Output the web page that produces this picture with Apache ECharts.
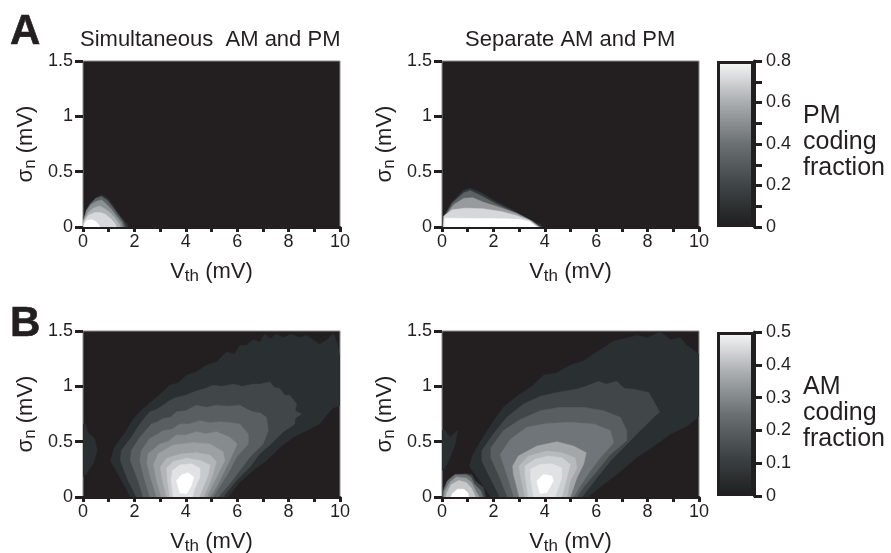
<!DOCTYPE html>
<html><head><meta charset="utf-8">
<style>html,body{margin:0;padding:0;background:#fff}#c{width:891px;height:553px}</style>
<script src="https://cdn.jsdelivr.net/npm/echarts@6/dist/echarts.min.js"></script>
</head><body><div id="c"></div>
<script>
const xTicks=[0,2,4,6,8,10];
const yTicks=[0,0.5,1,1.5];
const pmTicks=[0,0.2,0.4,0.6,0.8];
const amTicks=[0,0.1,0.2,0.3,0.4,0.5];
const titles=['Simultaneous  AM and PM','Separate AM and PM'];

// Contour shades, outermost to innermost
const shadesA1=['#2f3638','#5c6163','#8b9093','#aeb2b5','#d6d9db','#ffffff'];
const shadesA2=['#2f3638','#5c6163','#979b9e','#d5d8da','#ffffff'];
const shadesB1=['#2a3032','#2a3032','#414749','#595e60','#6f7477','#868b8e','#9ca0a3','#b1b5b8','#c8cbce','#e0e2e4','#ffffff'];
const shadesB2=['#2a3032','#2a3032','#414749','#595e60','#70757a','#a3a7aa','#b7babd','#cdd0d3','#e0e2e4','#ffffff','#3f4547','#6d7275','#999da0','#c5c8cb','#ffffff'];

// Contour outlines, [V_th, sigma_n]
const contoursA1=[
[[0,.04],[.15,.14],[.3,.2],[.5,.265],[.72,.29],[.95,.26],[1.15,.2],[1.35,.13],[1.55,.07],[1.72,.03],[1.75,0],[0,0]],
[[.01,.05],[.12,.15],[.28,.21],[.5,.26],[.72,.275],[.95,.24],[1.15,.18],[1.35,.115],[1.55,.055],[1.65,0],[0,0]],
[[.02,.06],[.15,.15],[.3,.2],[.5,.23],[.72,.245],[.9,.21],[1.1,.16],[1.3,.1],[1.5,.04],[1.55,0],[0,0]],
[[.03,.06],[.2,.13],[.4,.17],[.65,.19],[.85,.165],[1.05,.13],[1.25,.08],[1.4,.03],[1.45,0],[0,0]],
[[.05,.05],[.2,.105],[.45,.13],[.7,.13],[.9,.11],[1.1,.07],[1.25,.03],[1.3,0],[0,0]],
[[.05,.03],[.15,.06],[.35,.065],[.5,.05],[.6,.025],[.65,0],[.05,0]]
];
const contoursA2=[
[[.05,.09],[.38,.225],[.83,.33],[1.09,.35],[1.48,.315],[2.13,.225],[2.78,.15],[3.43,.06],[3.82,.025],[3.9,0],[.03,0]],
[[.08,.09],[.4,.215],[.85,.31],[1.1,.33],[1.5,.285],[2.1,.21],[2.75,.14],[3.4,.055],[3.85,0],[.05,0]],
[[.1,.09],[.45,.2],[.85,.26],[1.2,.265],[1.6,.225],[2.2,.18],[2.9,.125],[3.5,.055],[3.8,0],[.05,0]],
[[.07,.1],[.4,.155],[.9,.17],[1.6,.165],[2.3,.14],[2.9,.105],[3.4,.06],[3.75,0],[.05,0]],
[[.1,.08],[2.4,.075],[3,.07],[3.4,.05],[3.6,.015],[3.65,0],[.1,0]]
];
const contoursB1=[
[[.1,.66],[.2,.58],[.45,.53],[.55,.42],[.39,.3],[.1,.2],[0,.18],[0,.66]],
[[1.85,0],[1.43,.18],[1.06,.33],[1.23,.45],[1.69,.6],[1.95,.7],[2.21,.77],[2.5,.83],[2.86,.9],[3.38,1.01],[3.7,1.03],[4.03,1.1],[4.4,1.13],[4.8,1.19],[5.2,1.22],[5.58,1.31],[5.9,1.29],[6.1,1.37],[6.36,1.37],[6.6,1.42],[6.9,1.4],[7.05,1.47],[7.3,1.43],[7.5,1.47],[7.8,1.44],[8.1,1.47],[8.44,1.44],[8.7,1.46],[9,1.41],[9.22,1.38],[9.5,1.42],[9.74,1.48],[9.9,1.38],[10,1.26],[10,.83],[9.7,.8],[9.48,.74],[9.2,.66],[8.7,.6],[8.18,.54],[7.66,.45],[7.14,.33],[6.62,.24],[6.1,.135],[5.65,0]],
[[2.08,0],[1.75,.15],[1.45,.33],[1.49,.42],[1.88,.54],[2.21,.66],[2.6,.77],[2.85,.79],[3.12,.83],[3.35,.87],[3.64,.9],[4,.92],[4.42,.96],[4.75,.98],[5.06,1.01],[5.4,1],[5.84,1.02],[6.2,1],[6.62,1.02],[6.9,1.02],[7.27,1.04],[7.45,.99],[7.66,.98],[7.85,.92],[8.05,.92],[8.31,.84],[8.25,.78],[8.5,.75],[8.25,.71],[8.25,.66],[7.8,.59],[7.27,.47],[6.88,.39],[6.49,.27],[5.97,.15],[5.45,0]],
[[2.34,0],[2.14,.15],[1.84,.33],[1.88,.42],[2.21,.54],[2.66,.66],[2.9,.68],[3.12,.71],[3.4,.72],[3.64,.77],[4,.78],[4.42,.83],[4.8,.81],[5.19,.83],[5.6,.82],[6.1,.83],[6.4,.79],[6.62,.77],[6.9,.76],[7.14,.72],[7.21,.6],[7.01,.48],[6.49,.36],[6.1,.24],[5.71,.12],[5.26,0]],
[[2.6,0],[2.4,.15],[2.21,.33],[2.27,.42],[2.6,.53],[2.85,.56],[3.12,.6],[3.45,.61],[3.77,.66],[4.15,.66],[4.55,.69],[4.95,.67],[5.32,.68],[5.75,.67],[6.1,.66],[6.43,.57],[6.43,.48],[5.97,.36],[5.71,.24],[5.39,.12],[5.06,0]],
[[2.86,0],[2.66,.15],[2.49,.3],[2.53,.39],[2.99,.48],[3.3,.5],[3.64,.56],[4,.56],[4.42,.59],[4.8,.57],[5.19,.59],[5.71,.54],[6,.48],[5.71,.33],[5.45,.21],[5.19,.09],[4.94,0]],
[[3.05,0],[2.86,.15],[2.75,.29],[2.92,.39],[3.51,.47],[4.29,.49],[4.94,.48],[5.45,.41],[5.52,.33],[5.26,.21],[5,.09],[4.81,0]],
[[3.25,0],[3.09,.15],[3.01,.27],[3.25,.35],[3.83,.39],[4.42,.4],[4.94,.38],[5.19,.32],[5.06,.21],[4.87,.09],[4.68,0]],
[[3.38,0],[3.29,.15],[3.25,.26],[3.51,.32],[4.03,.35],[4.55,.33],[4.94,.29],[4.87,.2],[4.68,.09],[4.52,0]],
[[3.51,0],[3.43,.15],[3.48,.24],[3.77,.29],[4.22,.3],[4.55,.26],[4.55,.18],[4.35,.075],[4.26,0]],
[[3.7,.09],[3.64,.15],[3.83,.2],[4.09,.22],[4.31,.18],[4.22,.105],[4.03,.03],[3.77,.036]]
];
const contoursB2=[
[[.08,.61],[.31,.54],[.6,.6],[.51,.48],[.31,.355],[.12,.265],[0,.235],[0,.6]],
[[1.9,0],[1.48,.145],[1.06,.28],[1.22,.39],[1.68,.57],[2.05,.7],[2.39,.81],[2.7,.87],[3.04,.93],[3.5,1],[3.95,1.1],[4.45,1.12],[4.99,1.19],[5.5,1.23],[6.03,1.31],[6.68,1.41],[7.1,1.43],[7.58,1.46],[8,1.44],[8.49,1.49],[8.9,1.42],[9.27,1.44],[9.53,1.37],[10,1.29],[10,.73],[9.53,.64],[8.88,.57],[8.36,.48],[7.58,.36],[6.81,.205],[6.29,.115],[5.77,.02],[5.7,0]],
[[2.25,0],[1.87,.175],[1.55,.325],[1.55,.42],[2,.57],[2.52,.72],[3.17,.84],[3.82,.91],[4.47,.945],[5.25,.975],[5.6,1],[6.09,1.045],[6.4,1.02],[6.8,1.045],[7.1,.98],[7.45,.975],[8.04,.945],[8.23,.87],[8.47,.765],[8.3,.735],[7.58,.57],[7.06,.445],[6.55,.325],[6.03,.175],[5.45,0]],
[[2.55,0],[2.19,.205],[1.9,.355],[1.9,.445],[2.39,.6],[3.04,.7],[3.82,.78],[4.6,.81],[5.51,.81],[6.29,.78],[6.94,.72],[7.19,.6],[7.19,.51],[6.55,.385],[6.03,.235],[5.5,.085],[5.25,0]],
[[2.8,0],[2.52,.205],[2.26,.385],[2.65,.52],[3.3,.63],[4.08,.665],[4.99,.675],[5.9,.66],[6.55,.6],[6.68,.49],[6.16,.355],[5.77,.235],[5.38,.1],[5.12,0]],
[[3.01,0],[2.78,.205],[2.75,.28],[2.97,.37],[3.69,.46],[4.47,.5],[5.12,.46],[5.61,.4],[5.51,.295],[5.25,.175],[4.99,0]],
[[3.23,0],[3.04,.205],[3,.28],[3.36,.37],[4.08,.415],[4.66,.4],[5.18,.355],[5.25,.265],[4.99,.145],[4.86,0]],
[[3.36,0],[3.23,.205],[3.23,.28],[3.62,.34],[4.14,.37],[4.66,.355],[4.99,.295],[4.86,.175],[4.66,0]],
[[3.56,0],[3.45,.175],[3.45,.25],[3.82,.295],[4.27,.3],[4.66,.265],[4.66,.175],[4.4,0]],
[[3.75,.085],[3.69,.145],[3.95,.205],[4.27,.19],[4.34,.145],[4.08,.04],[3.82,.03]],
[[.08,.085],[.25,.16],[.51,.205],[.96,.21],[1.16,.2],[1.29,.145],[1.61,.085],[1.68,.02],[1.7,0],[.03,0]],
[[.05,.05],[.2,.14],[.5,.2],[.95,.2],[1.12,.18],[1.25,.12],[1.5,.06],[1.6,0],[.03,0]],
[[.1,.05],[.3,.13],[.55,.18],[.95,.17],[1.15,.13],[1.3,.06],[1.45,0],[.08,0]],
[[.2,.04],[.35,.11],[.65,.15],[.95,.13],[1.15,.08],[1.25,.03],[1.3,0],[.15,0]],
[[.4,.03],[.6,.07],[.85,.07],[1,.04],[1.05,0],[.35,0]]
];
const pmBarTop=[0.8];
const amBarTop=[0.5];

const INK='#231f20', FONT='"Liberation Sans",Arial,sans-serif';
const panels=[
 {c:contoursA1,s:shadesA1,left:83,top:61},
 {c:contoursA2,s:shadesA2,left:442,top:61},
 {c:contoursB1,s:shadesB1,left:83,top:331},
 {c:contoursB2,s:shadesB2,left:442,top:331}
];
const rich={a:{fontSize:22,fontFamily:FONT,color:INK},s:{fontSize:17,fontFamily:FONT,color:INK,padding:[9,0,0,0]}};
const grid=[],xAxis=[],yAxis=[],series=[];
panels.forEach((p,i)=>{
 grid.push({outerBoundsMode:'none',left:p.left,top:p.top,width:257,height:166,show:true,backgroundColor:INK,borderColor:'#8c8c8c',borderWidth:1});
 xAxis.push({type:'value',gridIndex:i,min:0,max:10,interval:1,splitLine:{show:false},
  axisLine:{show:true,onZero:false,lineStyle:{color:INK,width:3}},
  axisTick:{show:true,length:5,lineStyle:{color:INK,width:3}},
  axisLabel:{fontSize:18,fontFamily:FONT,color:INK,margin:6,formatter:v=>xTicks.includes(v)?String(v):''},
  name:'{a|V}{s|th}{a| (mV)}',nameLocation:'middle',nameGap:32,nameTextStyle:{rich}});
 yAxis.push({type:'value',gridIndex:i,min:0,max:1.5,interval:0.5,splitLine:{show:false},
  axisLine:{show:false},
  axisTick:{show:true,length:8,lineStyle:{color:INK,width:3}},
  axisLabel:{fontSize:18,fontFamily:FONT,color:INK,margin:10,formatter:v=>yTicks.includes(v)?String(v):''},
  name:'{a|σ}{s|n}{a| (mV)}',nameLocation:'middle',nameRotate:90,nameGap:44,nameTextStyle:{rich}});
 p.c.forEach((pts,k)=>{
  series.push({type:'custom',coordinateSystem:'cartesian2d',xAxisIndex:i,yAxisIndex:i,silent:true,animation:false,clip:true,
   data:pts,encode:{x:0,y:1},
   renderItem:(params,api)=>params.dataIndex!==0?null:{type:'polygon',shape:{points:pts.map(q=>api.coord(q))},style:{fill:p.s[k],stroke:p.s[k],lineWidth:0.5}}});
 });
});
// colour bars
[[61,166,0.8,pmBarTop,pmTicks],[332,164,0.5,amBarTop,amTicks]].forEach((b,j)=>{
 const g=4+j;
 grid.push({outerBoundsMode:'none',left:717,top:b[0],width:37,height:b[1]});
 xAxis.push({type:'category',gridIndex:g,data:['bar'],show:false});
 yAxis.push({type:'value',gridIndex:g,position:'right',min:0,max:b[2],interval:0.1,splitLine:{show:false},
  axisLine:{show:true,lineStyle:{color:INK,width:3}},
  axisTick:{show:true,length:8,lineStyle:{color:INK,width:3}},
  axisLabel:{fontSize:18,fontFamily:FONT,color:INK,margin:12,formatter:v=>b[4].some(t=>Math.abs(t-v)<1e-6)?String(+v.toFixed(1)):''}});
 series.push({type:'bar',xAxisIndex:g,yAxisIndex:g,data:b[3],barWidth:'100%',silent:true,animation:false,
  itemStyle:{borderColor:INK,borderWidth:3,color:new echarts.graphic.LinearGradient(0,0,0,1,[{offset:0,color:'#f8f8f8'},{offset:0.25,color:'#a9adb0'},{offset:0.5,color:'#6b7073'},{offset:0.75,color:'#3f4446'},{offset:1,color:'#1c1e1e'}])}});
});
const txt=(t,left,top,size,weight,lh)=>({text:t,left,top,padding:0,textStyle:{fontSize:size,fontWeight:weight||'normal',fontFamily:FONT,color:INK,lineHeight:lh||size}});
const heavy={textBorderColor:INK,textBorderWidth:0.6};
const A=txt('A',10,11,42,'bold'), B=txt('B',10,303,42,'bold');
Object.assign(A.textStyle,heavy);Object.assign(B.textStyle,heavy);
const chart=echarts.init(document.getElementById('c'),null,{renderer:'canvas'});
chart.setOption({animation:false,backgroundColor:'#fff',grid,xAxis,yAxis,series,
 title:[A,B,
  txt(titles[0],80,29,22),
  txt(titles[1],465,29,22),
  txt('PM\ncoding\nfraction',803,103,25,'normal',26),
  txt('AM\ncoding\nfraction',803,374,25,'normal',26)
 ]});
</script></body></html>
